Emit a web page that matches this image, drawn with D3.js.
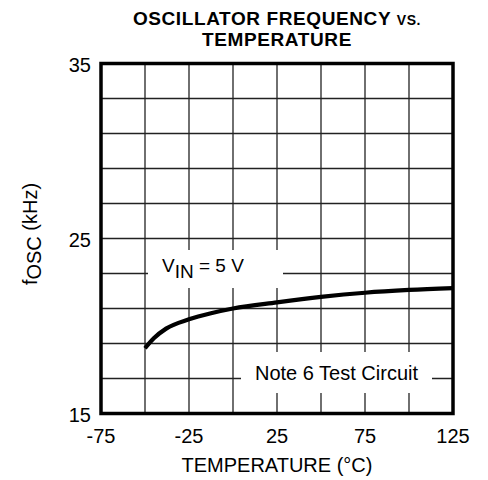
<!DOCTYPE html>
<html>
<head>
<meta charset="utf-8">
<script src="https://cdn.jsdelivr.net/npm/d3@7"></script>
<style>
  body { margin: 0; background: #fff; }
  svg text { font-family: "Liberation Sans", Arial, sans-serif; fill: #000; }
</style>
</head>
<body>
<svg id="chart" width="488" height="480"></svg>
<script>
// temperature (°C) vs oscillator frequency (kHz)
const temps = [-50, -45, -38, -25, -12.5, 0, 25, 50, 75, 100, 125];
const freqs = [18.73, 19.3, 19.85, 20.38, 20.73, 21.0, 21.35, 21.66, 21.9, 22.06, 22.17];
const xTicks = [-75, -25, 25, 75, 125];
const yTicks = [15, 25, 35];
const xGrid = d3.range(-75, 126, 25);
const yGrid = d3.range(15, 36, 2);

const svg = d3.select("#chart");
const pL = 101, pR = 453, pT = 63.5, pB = 413.5;

const x = d3.scaleLinear().domain([-75, 125]).range([pL, pR]);
const y = d3.scaleLinear().domain([15, 35]).range([pB, pT]);

// title
const title = svg.append("text")
  .attr("x", 277).attr("y", 24.5)
  .attr("text-anchor", "middle")
  .style("font-weight", "bold").style("font-size", "19px")
  .style("letter-spacing", "0.6px");
title.append("tspan").text("OSCILLATOR FREQUENCY ");
title.append("tspan").style("font-size", "14px").text("VS.");
svg.append("text")
  .attr("x", 277).attr("y", 46)
  .attr("text-anchor", "middle")
  .style("font-weight", "bold").style("font-size", "19px")
  .style("letter-spacing", "0.6px")
  .text("TEMPERATURE");

// grid
svg.append("g").selectAll("line")
  .data(xGrid).enter().append("line")
  .attr("x1", d => x(d)).attr("x2", d => x(d))
  .attr("y1", pT).attr("y2", pB)
  .attr("stroke", "#222").attr("stroke-width", 1.3);
svg.append("g").selectAll("line")
  .data(yGrid).enter().append("line")
  .attr("x1", pL).attr("x2", pR)
  .attr("y1", d => y(d)).attr("y2", d => y(d))
  .attr("stroke", "#222").attr("stroke-width", 1.3);

// label boxes (white, hide the grid under them)
svg.append("rect").attr("x", 148).attr("y", 250).attr("width", 135).attr("height", 38).attr("fill", "#fff");
svg.append("rect").attr("x", 241).attr("y", 352).attr("width", 191).attr("height", 41).attr("fill", "#fff");

const vin = svg.append("text").attr("x", 162).attr("y", 272).style("font-size", "19px");
vin.append("tspan").text("V");
vin.append("tspan").attr("dy", 6).text("IN");
vin.append("tspan").attr("dy", -6).text(" = 5 V");

svg.append("text").attr("x", 336.5).attr("y", 380)
  .attr("text-anchor", "middle").style("font-size", "20px")
  .text("Note 6 Test Circuit");

// curve
const line = d3.line()
  .x((d, i) => x(temps[i]))
  .y(d => y(d))
  .curve(d3.curveMonotoneX);
svg.append("path")
  .attr("d", line(freqs))
  .attr("fill", "none").attr("stroke", "#000").attr("stroke-width", 4.2);

// frame
svg.append("rect")
  .attr("x", pL).attr("y", pT)
  .attr("width", pR - pL).attr("height", pB - pT)
  .attr("fill", "none").attr("stroke", "#000").attr("stroke-width", 3.5);

// tick labels
svg.append("g").selectAll("text")
  .data(xTicks).enter().append("text")
  .attr("x", d => x(d)).attr("y", 443)
  .attr("text-anchor", "middle").style("font-size", "20px")
  .text(d => d);
svg.append("g").selectAll("text")
  .data(yTicks).enter().append("text")
  .attr("x", 91).attr("y", d => y(d) + 8)
  .attr("text-anchor", "end").style("font-size", "20px")
  .text(d => d);

// axis titles
svg.append("text").attr("x", 277).attr("y", 472)
  .attr("text-anchor", "middle").style("font-size", "20px")
  .text("TEMPERATURE (°C)");
const yl = svg.append("text")
  .attr("transform", "translate(37,234) rotate(-90)")
  .attr("text-anchor", "middle").style("font-size", "20px");
yl.append("tspan").text("f");
yl.append("tspan").attr("dy", 4).text("OSC");
yl.append("tspan").attr("dy", -4).text(" (kHz)");
</script>
</body>
</html>
